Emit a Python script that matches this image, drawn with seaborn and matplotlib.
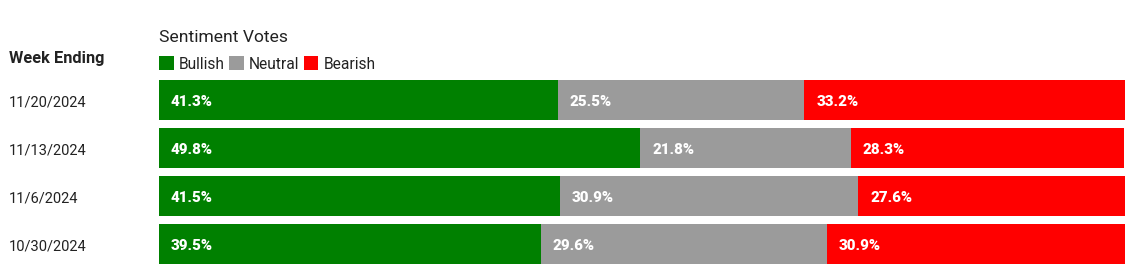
import matplotlib
matplotlib.use("Agg")
import matplotlib.pyplot as plt
import matplotlib.transforms as mtransforms
from matplotlib.patches import Patch
import seaborn as sns
import pandas as pd
import numpy as np

weeks = ["11/20/2024", "11/13/2024", "11/6/2024", "10/30/2024"]
bullish = [41.3, 49.8, 41.5, 39.5]
neutral = [25.5, 21.8, 30.9, 29.6]
bearish = [33.2, 28.3, 27.6, 30.9]
series = ["Bullish", "Neutral", "Bearish"]
colors = {"Bullish": "#008000", "Neutral": "#9b9b9b", "Bearish": "#ff0000"}

sns.set_theme(style="white")
plt.rcParams["font.family"] = ["Roboto", "DejaVu Sans"]

W, H = 1133, 277
fig = plt.figure(figsize=(W / 100, H / 100), dpi=100)
ax = fig.add_axes([159 / W, 13 / H, (1125 - 159) / W, (264 - 80) / H])

df = pd.DataFrame({"week": weeks, "Bullish": bullish, "Neutral": neutral, "Bearish": bearish})
df["c1"] = df["Bullish"]
df["c2"] = df["Bullish"] + df["Neutral"]
df["c3"] = df["c2"] + df["Bearish"]

width = 40 / 48
for col, name in [("c3", "Bearish"), ("c2", "Neutral"), ("c1", "Bullish")]:
    sns.barplot(data=df, x=col, y="week", orient="h", color=colors[name],
                saturation=1, width=width, ax=ax, errorbar=None, linewidth=0)

ax.set_xlim(0, 100)
ax.set_ylim(3 + width / 2, -width / 2)
ax.set_axis_off()

starts = {"Bullish": [0] * 4, "Neutral": list(df["c1"]), "Bearish": list(df["c2"])}
vals = {"Bullish": bullish, "Neutral": neutral, "Bearish": bearish}
for name in series:
    for i in range(4):
        ax.annotate(f"{vals[name][i]:.1f}%", xy=(starts[name][i], i), xytext=(12 * 0.72, -1.5),
                    textcoords="offset points", ha="left", va="center", color="white",
                    fontsize=10.8, fontweight="heavy")

trans = mtransforms.blended_transform_factory(fig.transFigure, ax.transData)
for i, w in enumerate(weeks):
    ax.annotate(w, xy=(9 / W, i), xycoords=trans, xytext=(0, -2), textcoords="offset points",
                ha="left", va="center", fontsize=10.5, color="#222222", annotation_clip=False)

fig.text(9 / W, 1 - 58 / H, "Week Ending", ha="left", va="center", fontsize=11.8,
         fontweight="bold", color="#222222")
fig.text(159 / W, 1 - 37 / H, "Sentiment Votes", ha="left", va="center", fontsize=12.6,
         color="#222222")

handles = [Patch(facecolor=colors[s], edgecolor="none", label=s) for s in series]
leg = fig.legend(handles=handles, loc="center left", bbox_to_anchor=(159 / W, 1 - 64 / H),
                 ncol=3, frameon=False, fontsize=11.2, handlelength=0.95, handleheight=0.95,
                 handletextpad=0.35, columnspacing=0.25, borderpad=0, borderaxespad=0)
for t in leg.get_texts():
    t.set_color("#222222")

fig.savefig("out.png", dpi=100)
